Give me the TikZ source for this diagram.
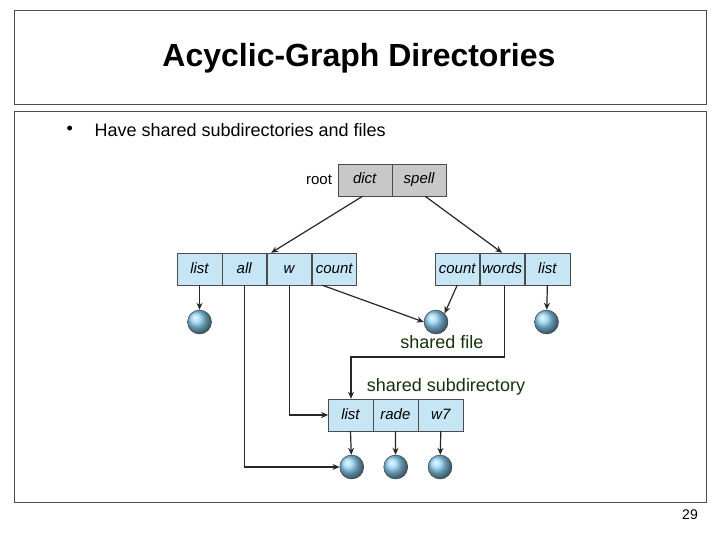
\documentclass[tikz,border=0pt]{standalone}
\usepackage{fontspec}
\setmainfont{Liberation Sans}
\usetikzlibrary{arrows.meta,positioning}
\definecolor{cellblue}{RGB}{198,230,245}
\definecolor{cellgray}{RGB}{200,200,200}
\definecolor{ballblue}{RGB}{120,200,240}
\definecolor{labgreen}{RGB}{20,50,10}
\begin{document}
\begin{tikzpicture}[x=1pt,y=-1pt,
  cell/.style={rectangle,draw=black!70,fill=cellblue,minimum height=32pt,inner sep=0pt,text height=11pt,text depth=3pt,font=\fontsize{15}{17}\selectfont\itshape},
  rootcell/.style={cell,fill=cellgray,minimum width=54pt},
  file/.style={circle,draw=black!80,shading=ball,ball color=ballblue!85!white,minimum size=24pt,inner sep=0pt},
  arr/.style={draw=black!85,line width=1.2pt,-{Stealth[length=7pt,width=6pt]}},
  lab/.style={font=\fontsize{18}{20}\selectfont,text=labgreen}]
\useasboundingbox (0,0) rectangle (720,540);
% slide frames
\draw[black!70] (14,10) rectangle (706,104);
\draw[black!70] (14,111) rectangle (706,502);
\node[font=\fontsize{32}{36}\selectfont\bfseries] (title) at (359,58) {Acyclic-Graph Directories};
\node[anchor=west,font=\fontsize{18}{20}\selectfont] (bul) at (63,130) {•};
\node[anchor=west,font=\fontsize{18}{20}\selectfont] (txt) at (91,130) {Have shared subdirectories and files};
\node[font=\fontsize{14}{16}\selectfont] (pg) at (690,515) {29};

% root directory
\node[rootcell] (dict) at (364.7,180) {dict};
\node[rootcell,right=0pt of dict] (spell) {spell};
\node[left=2pt of dict,font=\fontsize{15}{17}\selectfont] (root) {root};

% left directory
\node[cell,minimum width=44.4pt] (l-list) at (199.5,269) {list};
\node[cell,minimum width=44.3pt,right=0pt of l-list] (l-all) {all};
\node[cell,minimum width=44.7pt,right=0pt of l-all] (l-w) {w};
\node[cell,minimum width=44.6pt,right=0pt of l-w] (l-count) {count};

% right directory
\node[cell,minimum width=44.3pt] (r-count) at (457.2,269) {count};
\node[cell,minimum width=44.7pt,right=0pt of r-count] (r-words) {words};
\node[cell,minimum width=45pt,right=0pt of r-words] (r-list) {list};

% shared subdirectory
\node[cell,minimum width=44.4pt] (b-list) at (350.5,415) {list};
\node[cell,minimum width=44.6pt,right=0pt of b-list] (b-rade) {rade};
\node[cell,minimum width=45.4pt,right=0pt of b-rade] (b-w7) {w7};

% files
\node[file] (f-left) at (199.5,322) {};
\node[file] (f-shared) at (436,322) {};
\node[file] (f-right) at (546.5,322) {};
\node[file] (g-list) at (351.7,467) {};
\node[file] (g-rade) at (395.7,467) {};
\node[file] (g-w7) at (440,467) {};

\node[lab] (sfile) at (442,342) {shared file};
\node[lab] (ssub) at (446,387) {shared subdirectory};

% links
\draw[arr] ([xshift=-2]dict.south) -- ([xshift=-18]l-w.north);
\draw[arr] ([xshift=6]spell.south) -- (r-words.north);
\draw[arr] (l-list.south) -- (f-left);
\draw[arr] ([xshift=-12]l-count.south) -- (f-shared.west);
\draw[arr] (r-count.south) -- (f-shared.north east);
\draw[arr] (r-list.south) -- (f-right);
\draw[arr] ([xshift=2]r-words.south) |- (351,357) -- ([xshift=0.5]b-list.north);
\draw[arr] (l-w.south) |- (b-list.west);
\draw[arr] (l-all.south) |- (g-list.west);
\draw[arr] (b-list.south) -- (g-list);
\draw[arr] (b-rade.south) -- (g-rade);
\draw[arr] (b-w7.south) -- (g-w7);
\end{tikzpicture}
\end{document}
